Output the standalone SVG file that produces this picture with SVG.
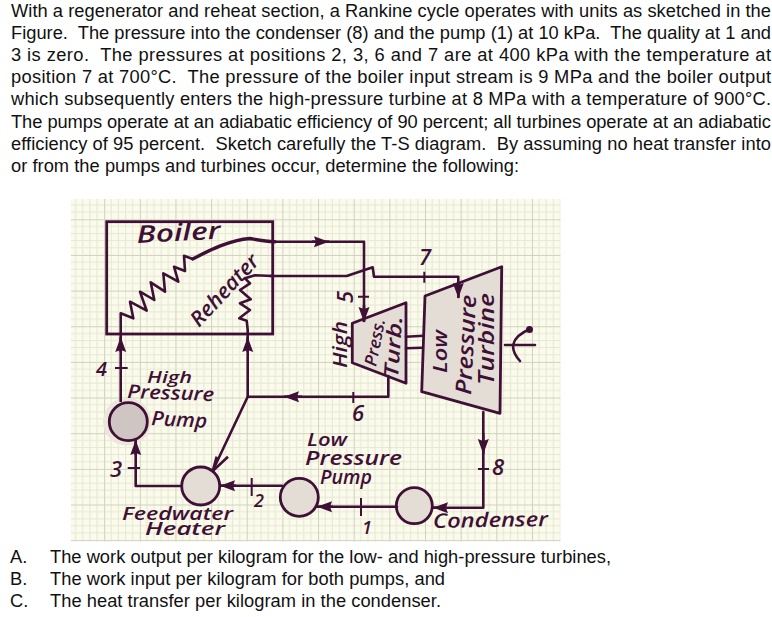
<svg xmlns="http://www.w3.org/2000/svg" width="772" height="617" viewBox="0 0 772 617">
<style>
.t{font-family:"Liberation Sans",Arial,sans-serif;font-size:18.3px;fill:#111;white-space:pre}
.h{font-family:"Open Sans","Liberation Sans",sans-serif;font-style:italic;font-weight:600;fill:#3f1035}
.l{fill:none;stroke:#3f1035;stroke-width:2.6;stroke-linejoin:round;stroke-linecap:round}
.th{stroke-width:3.4}
.a{fill:none;stroke:#3f1035;stroke-width:2.6;stroke-linejoin:round}
.n{fill:#e4ddd5;stroke:#3f1035;stroke-width:2.8;stroke-linejoin:round}
.b{fill:none;stroke:#3f1035;stroke-width:2.8}
.tk{stroke:#3f1035;stroke-width:2;fill:none}
</style>
<defs>
<pattern id="g" patternUnits="userSpaceOnUse" x="68.5" y="183.65" width="35.65" height="35.65">
<rect width="35.65" height="35.65" fill="#fbfbec"/>
<path d="M7.13 0V35.65M14.26 0V35.65M21.39 0V35.65M28.52 0V35.65M0 7.13H35.65M0 14.26H35.65M0 21.39H35.65M0 28.52H35.65" stroke="#e6e7d5" stroke-width="1" fill="none"/>
<path d="M0.5 0V35.65M0 0.5H35.65" stroke="#d0d1bf" stroke-width="1" fill="none"/>
</pattern>
<marker id="ah" markerUnits="userSpaceOnUse" markerWidth="18" markerHeight="14" refX="15" refY="7" orient="auto">
<path d="M0 1.5L15 7L0 12.5L2 7Z" fill="#3f1035"/>
</marker>
</defs>

<g id="problem-text">
<text class="t" x="11" y="17" textLength="760">With a regenerator and reheat section, a Rankine cycle operates with units as sketched in the</text>
<text class="t" x="11" y="39" textLength="760">Figure.  The pressure into the condenser (8) and the pump (1) at 10 kPa.  The quality at 1 and</text>
<text class="t" x="11" y="61" textLength="760">3 is zero.  The pressures at positions 2, 3, 6 and 7 are at 400 kPa with the temperature at</text>
<text class="t" x="11" y="83" textLength="760">position 7 at 700°C.  The pressure of the boiler input stream is 9 MPa and the boiler output</text>
<text class="t" x="11" y="105" textLength="760">which subsequently enters the high-pressure turbine at 8 MPa with a temperature of 900°C.</text>
<text class="t" x="11" y="127.500" textLength="760">The pumps operate at an adiabatic efficiency of 90 percent; all turbines operate at an adiabatic</text>
<text class="t" x="11" y="149.500" textLength="760">efficiency of 95 percent.  Sketch carefully the T-S diagram.  By assuming no heat transfer into</text>
<text class="t" x="11" y="171.500" textLength="508">or from the pumps and turbines occur, determine the following:</text>
</g>

<rect id="grid" x="71" y="199" width="489.500" height="342.500" fill="url(#g)"/>

<g id="boiler">
<rect class="b" x="106.700" y="221.700" width="166" height="112.300"/>
<text class="h" transform="translate(137 243) rotate(-3)" font-size="24" textLength="84" lengthAdjust="spacingAndGlyphs">Boiler</text>
</g>
<g id="reheater">
<path class="a" d="M247.700 334V330L246.700 320.700L239.300 318.300L250 310L240 303.300L250.700 299.300L240 290L250 283.300L245 278.300L255 275.300L272.700 276"/>
<text class="h" transform="translate(199 328) rotate(-47)" font-size="21" textLength="90" lengthAdjust="spacingAndGlyphs">Reheater</text>
</g>
<g id="high-pressure-pump">
<circle cx="127" cy="421.700" r="24" fill="#ece6dc"/>
<circle cx="128.300" cy="421.700" r="19" fill="#cfc6c4" stroke="#3f1035" stroke-width="2.800"/>
<text class="h" x="147" y="383" font-size="16" textLength="45" lengthAdjust="spacingAndGlyphs">High</text>
<text class="h" transform="translate(127 398) rotate(2)" font-size="19" textLength="87" lengthAdjust="spacingAndGlyphs">Pressure</text>
<text class="h" transform="translate(151 425) rotate(3)" font-size="20" textLength="56" lengthAdjust="spacingAndGlyphs">Pump</text>
</g>
<g id="feedwater-heater">
<circle class="n" cx="200.700" cy="486" r="19"/>
<text class="h" x="122" y="520" font-size="18" textLength="111" lengthAdjust="spacingAndGlyphs">Feedwater</text>
<text class="h" x="145" y="535" font-size="18" textLength="80" lengthAdjust="spacingAndGlyphs">Heater</text>
</g>
<g id="low-pressure-pump">
<circle class="n" cx="299.300" cy="497.300" r="19"/>
<text class="h" x="307" y="446" font-size="18" textLength="40" lengthAdjust="spacingAndGlyphs">Low</text>
<text class="h" x="305" y="465" font-size="19" textLength="97" lengthAdjust="spacingAndGlyphs">Pressure</text>
<text class="h" x="320" y="484" font-size="19" textLength="52" lengthAdjust="spacingAndGlyphs">Pump</text>
</g>
<g id="condenser">
<circle class="n" cx="414.300" cy="505.700" r="18"/>
<text class="h" transform="translate(433 528) rotate(-1)" font-size="20" textLength="115" lengthAdjust="spacingAndGlyphs">Condenser</text>
</g>
<g id="high-pressure-turbine">
<polygon class="n" points="352.300,323.300 406,302.700 406,383.300 352.300,362.700"/>
<text class="h" transform="translate(347 368) rotate(-90)" font-size="19" textLength="47" lengthAdjust="spacingAndGlyphs">High</text>
<text class="h" transform="translate(376 367) rotate(-79)" font-size="17" textLength="48" lengthAdjust="spacingAndGlyphs">Press.</text>
<text class="h" transform="translate(398 378) rotate(-86)" font-size="20" textLength="62" lengthAdjust="spacingAndGlyphs">Turb.</text>
</g>
<g id="low-pressure-turbine">
<polygon class="n" points="425,296 501.700,266.700 500,413.300 421.700,391.700"/>
<text class="h" transform="translate(447 373) rotate(-90)" font-size="19" textLength="43" lengthAdjust="spacingAndGlyphs">Low</text>
<text class="h" transform="translate(471 395) rotate(-87)" font-size="22" textLength="100" lengthAdjust="spacingAndGlyphs">Pressure</text>
<text class="h" transform="translate(494 385) rotate(-90)" font-size="21" textLength="92" lengthAdjust="spacingAndGlyphs">Turbine</text>
</g>

<g id="connectors">
<path class="a" d="M120.700 402V313.300L133.300 318.300L130 301.700L146.700 310.700L140 291.700L154.300 300L150.700 282.300L165 291.700L163.300 273.300L178.300 281.700L174 266.700L185 271L184 255.700L192.700 259"/>
<path class="l th" d="M192.700 259C210 250 230 240 250 238.500C258 240 265 241.700 275 241.700"/>
<path class="l" d="M272 241.700H364V321"/>
<path class="l" d="M270 276H346.700L372.700 267.300L374 276.700H458.300V297"/>
<path class="l" d="M247.700 334V396.700H388.300V376"/>
<path class="l" d="M247.700 396.700L214 468"/>
<path class="l" d="M135.700 442V486H181.700"/>
<path class="l" d="M220.500 485.700H282"/>
<path class="l" d="M317 506.700H397"/>
<path class="l" d="M433 507.700H483.300V412"/>
<path class="l" d="M406 336.700L423.500 335.700M406 348.300L422 347.700"/>
<path class="a" d="M120.700 352V337" marker-end="url(#ah)"/>
<path class="a" d="M247.700 352V337" marker-end="url(#ah)"/>
<path class="a" d="M312 241.700H329" marker-end="url(#ah)"/>
<path class="a" d="M364 305V322" marker-end="url(#ah)"/>
<path class="a" d="M458.300 282V298" marker-end="url(#ah)"/>
<path class="a" d="M302 396.700H284" marker-end="url(#ah)"/>
<path class="a" d="M216.700 456.700L212.700 471L228 456.700"/>
<path class="a" d="M135.700 455V440" marker-end="url(#ah)"/>
<path class="a" d="M236 485.700H220" marker-end="url(#ah)"/>
<path class="a" d="M333 506.700H317" marker-end="url(#ah)"/>
<path class="a" d="M445 507.700H433" marker-end="url(#ah)"/>
<path class="a" d="M483.300 433V454" marker-end="url(#ah)"/>
<path class="tk" d="M115 368H127.700M127.700 468H140M251.700 478V496M361 498V516M478 469H489M353.300 392V403M424.300 271.700V282.700M358 296.700H369"/>
<path class="l" d="M505 345H535M520 361C510 350 509 338 530 329"/>
<circle cx="529.500" cy="329.500" r="3.500" fill="#3f1035"/>
</g>

<g id="state-labels">
<text class="h" x="96" y="376" font-size="20">4</text>
<text class="h" x="110" y="477" font-size="22">3</text>
<text class="h" x="254" y="507" font-size="18">2</text>
<text class="h" x="362" y="534" font-size="18">1</text>
<text class="h" x="352" y="421" font-size="22">6</text>
<text class="h" x="492" y="475" font-size="22">8</text>
<text class="h" x="419" y="265" font-size="22">7</text>
<text class="h" transform="translate(353 303) rotate(-90)" font-size="22">5</text>
</g>

<g id="questions">
<text class="t" x="10" y="562.700">A.</text>
<text class="t" x="50" y="562.700" textLength="561">The work output per kilogram for the low- and high-pressure turbines,</text>
<text class="t" x="10" y="584.700">B.</text>
<text class="t" x="50" y="584.700" textLength="395">The work input per kilogram for both pumps, and</text>
<text class="t" x="10" y="606.700">C.</text>
<text class="t" x="50" y="606.700" textLength="391">The heat transfer per kilogram in the condenser.</text>
</g>
</svg>
